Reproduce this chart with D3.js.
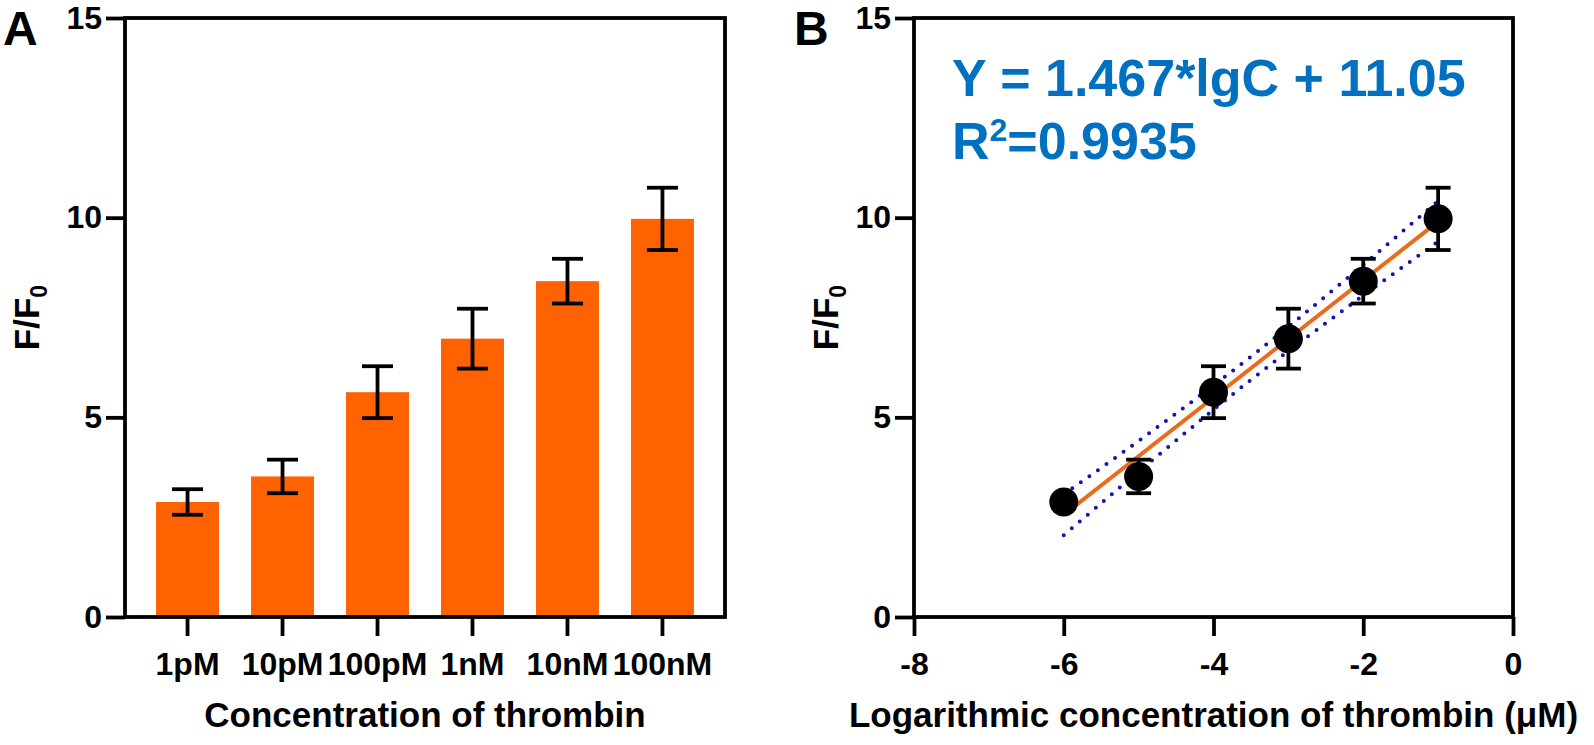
<!DOCTYPE html>
<html>
<head>
<meta charset="utf-8">
<script src="https://cdn.jsdelivr.net/npm/d3@7"></script>
<style>
    body { margin: 0; background: #fff; }
    text { font-family: Arial, "Liberation Sans", sans-serif; font-weight: bold; fill: #000; }
</style>
</head>
<body>
<div id="chart"></div>
<script>
// panel A: bar chart
var concLabels = ["1pM", "10pM", "100pM", "1nM", "10nM", "100nM"];
var ratioMean = [2.88, 3.52, 5.63, 6.97, 8.41, 9.97];
var ratioErr = [0.32, 0.42, 0.65, 0.75, 0.56, 0.78];

// panel B: linear fit vs log concentration
var logConc = [-6, -5, -4, -3, -2, -1];
var fitX = [-6, -1];
var fitY = [2.56, 9.90];
var bandX = [-6, -5, -4, -3.5, -3, -2, -1];
var bandUpper = [3.07, 4.41, 5.80, 6.52, 7.27, 8.82, 10.42];
var bandLower = [2.05, 3.64, 5.19, 5.94, 6.66, 8.05, 9.40];

var yTicks = [0, 5, 10, 15];
var xTicksB = [-8, -6, -4, -2, 0];

var W = 1594, H = 745;
var plotTop = 18, plotBottom = 617;
var axA = {left: 125, right: 725};
var axB = {left: 914, right: 1513};
var lineW = 3.8;
var dotR = 14.5;

var svg = d3.select("#chart").append("svg")
    .attr("width", W)
    .attr("height", H);

svg.append("rect").attr("width", W).attr("height", H).attr("fill", "#fff");

var y = d3.scaleLinear().domain([0, 15]).range([plotBottom, plotTop]);

function styleAxis(g) {
    g.select(".domain").remove();
    g.selectAll(".tick line").attr("stroke", "#000").attr("stroke-width", lineW);
    g.selectAll(".tick text").style("font-size", "32px").attr("fill", "#000");
}

var plainFmt = function(d) { return String(d); };

// ---------- A ----------
var gA = svg.append("g");

var x = d3.scaleBand()
    .domain(concLabels)
    .range([axA.left, axA.right])
    .paddingInner(0.337)
    .paddingOuter(0.327);

var dataA = concLabels.map(function(c, i) {
    return {label: c, mean: ratioMean[i], err: ratioErr[i]};
});

gA.selectAll(".bar")
    .data(dataA)
    .enter()
    .append("rect")
    .attr("class", "bar")
    .attr("x", function(d) { return x(d.label); })
    .attr("width", x.bandwidth())
    .attr("y", function(d) { return y(d.mean); })
    .attr("height", function(d) { return y(0) - y(d.mean); })
    .attr("fill", "#ff6200");

var errA = gA.selectAll(".err")
    .data(dataA)
    .enter()
    .append("g")
    .attr("stroke", "#000")
    .attr("stroke-width", lineW);
errA.append("line")
    .attr("x1", function(d) { return x(d.label) + x.bandwidth() / 2; })
    .attr("x2", function(d) { return x(d.label) + x.bandwidth() / 2; })
    .attr("y1", function(d) { return y(d.mean - d.err); })
    .attr("y2", function(d) { return y(d.mean + d.err); });
[1, -1].forEach(function(s) {
    errA.append("line")
        .attr("x1", function(d) { return x(d.label) + x.bandwidth() / 2 - 15.5; })
        .attr("x2", function(d) { return x(d.label) + x.bandwidth() / 2 + 15.5; })
        .attr("y1", function(d) { return y(d.mean + s * d.err); })
        .attr("y2", function(d) { return y(d.mean + s * d.err); });
});

gA.append("g")
    .attr("transform", "translate(" + axA.left + ",0)")
    .call(d3.axisLeft(y).tickValues(yTicks).tickFormat(plainFmt).tickSize(19).tickPadding(4))
    .call(styleAxis);

gA.append("g")
    .attr("transform", "translate(0," + plotBottom + ")")
    .call(d3.axisBottom(x).tickSize(19).tickPadding(16))
    .call(styleAxis);

gA.append("rect")
    .attr("x", axA.left).attr("y", plotTop)
    .attr("width", axA.right - axA.left).attr("height", plotBottom - plotTop)
    .attr("fill", "none").attr("stroke", "#000").attr("stroke-width", lineW);

gA.append("text")
    .attr("x", (axA.left + axA.right) / 2)
    .attr("y", 727)
    .attr("text-anchor", "middle")
    .style("font-size", "35px")
    .text("Concentration of thrombin");

// ---------- B ----------
var gB = svg.append("g");

var xB = d3.scaleLinear().domain([-8, 0]).range([axB.left, axB.right]);

var band = bandX.map(function(v, i) { return {x: v, hi: bandUpper[i], lo: bandLower[i]}; });

["hi", "lo"].forEach(function(k) {
    gB.append("path")
        .datum(band)
        .attr("fill", "none")
        .attr("stroke", "#1414a8")
        .attr("stroke-width", 4)
        .attr("stroke-linecap", "round")
        .attr("stroke-dasharray", "0 10.5")
        .attr("d", d3.line()
            .curve(d3.curveMonotoneX)
            .x(function(d) { return xB(d.x); })
            .y(function(d) { return y(d[k]); }));
});

gB.append("line")
    .attr("x1", xB(fitX[0])).attr("y1", y(fitY[0]))
    .attr("x2", xB(fitX[1])).attr("y2", y(fitY[1]))
    .attr("stroke", "#ec6a1c")
    .attr("stroke-width", 4);

var dataB = logConc.map(function(c, i) {
    return {x: c, mean: ratioMean[i], err: ratioErr[i]};
});

// like Prism, bars shorter than the symbol are hidden behind it
var errB = gB.selectAll(".errB")
    .data(dataB.filter(function(d) { return y(d.mean - d.err) - y(d.mean + d.err) > 2 * dotR; }))
    .enter()
    .append("g")
    .attr("stroke", "#000")
    .attr("stroke-width", lineW);
errB.append("line")
    .attr("x1", function(d) { return xB(d.x); })
    .attr("x2", function(d) { return xB(d.x); })
    .attr("y1", function(d) { return y(d.mean - d.err); })
    .attr("y2", function(d) { return y(d.mean + d.err); });
[1, -1].forEach(function(s) {
    errB.append("line")
        .attr("x1", function(d) { return xB(d.x) - 12.5; })
        .attr("x2", function(d) { return xB(d.x) + 12.5; })
        .attr("y1", function(d) { return y(d.mean + s * d.err); })
        .attr("y2", function(d) { return y(d.mean + s * d.err); });
});

gB.selectAll("circle")
    .data(dataB)
    .enter()
    .append("circle")
    .attr("cx", function(d) { return xB(d.x); })
    .attr("cy", function(d) { return y(d.mean); })
    .attr("r", dotR)
    .attr("fill", "#000");

gB.append("g")
    .attr("transform", "translate(" + axB.left + ",0)")
    .call(d3.axisLeft(y).tickValues(yTicks).tickFormat(plainFmt).tickSize(19).tickPadding(4))
    .call(styleAxis);

gB.append("g")
    .attr("transform", "translate(0," + plotBottom + ")")
    .call(d3.axisBottom(xB).tickValues(xTicksB).tickFormat(plainFmt).tickSize(19).tickPadding(16))
    .call(styleAxis);

gB.append("rect")
    .attr("x", axB.left).attr("y", plotTop)
    .attr("width", axB.right - axB.left).attr("height", plotBottom - plotTop)
    .attr("fill", "none").attr("stroke", "#000").attr("stroke-width", lineW);

gB.append("text")
    .attr("x", (axB.left + axB.right) / 2)
    .attr("y", 727)
    .attr("text-anchor", "middle")
    .style("font-size", "35px")
    .text("Logarithmic concentration of thrombin (μM)");

// equation
var eq = gB.append("g");
eq.append("text")
    .attr("x", 952).attr("y", 96)
    .style("font-size", "52px").style("fill", "#0070c0")
    .text("Y = 1.467*lgC + 11.05");
var r2 = eq.append("text")
    .attr("x", 952).attr("y", 159)
    .style("font-size", "52px").style("fill", "#0070c0");
r2.append("tspan").text("R");
r2.append("tspan").attr("dy", -18).style("font-size", "32px").text("2");
r2.append("tspan").attr("dy", 18).text("=0.9935");

// y titles and panel letters
[[axA.left, 86], [axB.left, 76]].forEach(function(p) {
    var t = svg.append("text")
        .attr("transform", "translate(" + (p[0] - p[1]) + "," + ((plotTop + plotBottom) / 2) + ") rotate(-90)")
        .attr("text-anchor", "middle")
        .style("font-size", "35px");
    t.append("tspan").text("F/F");
    t.append("tspan").attr("dy", 8).style("font-size", "23px").text("0");
});

svg.append("text").attr("x", 3).attr("y", 45).style("font-size", "48px").text("A");
svg.append("text").attr("x", 794).attr("y", 45).style("font-size", "48px").text("B");
</script>
</body>
</html>
